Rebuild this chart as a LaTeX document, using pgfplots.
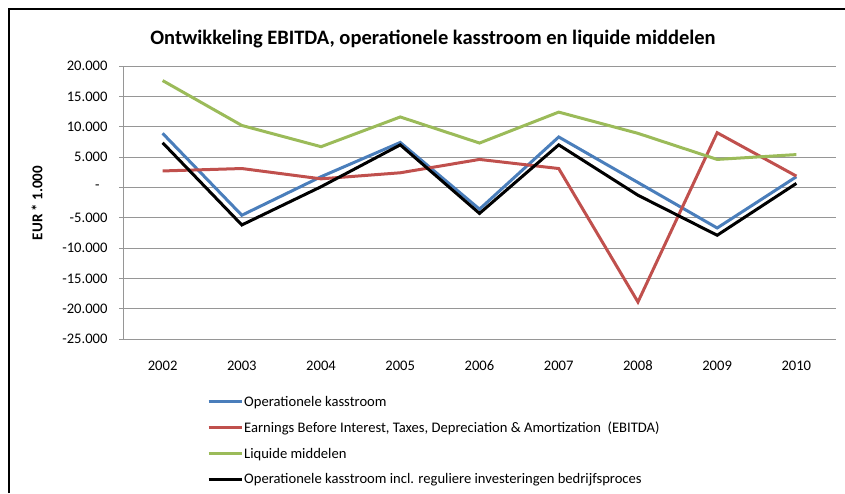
\documentclass[border=0pt]{standalone}
\usepackage{fontspec}
\setmainfont{Carlito}
\usepackage{pgfplots}
\pgfplotsset{compat=1.18}

\definecolor{kblue}{RGB}{74,126,187}
\definecolor{kred}{RGB}{192,80,77}
\definecolor{kgreen}{RGB}{155,187,89}
\definecolor{kgrid}{RGB}{150,150,150}

\begin{document}
\begin{tikzpicture}
  \path[use as bounding box] (0pt,0pt) rectangle (845pt,493pt);
  % outer frame (only left and top edges visible)
  \draw[black, line width=1.5pt] (9pt,0pt) -- (9pt,484pt) -- (845pt,484pt);
  \node[font=\fontsize{20.5}{24}\selectfont\bfseries] at (433pt,454pt)
    {Ontwikkeling EBITDA, operationele kasstroom en liquide middelen};
  \node[font=\fontsize{15}{17}\selectfont\bfseries, rotate=90] at (37pt,290pt)
    {EUR * 1.000};

  \begin{axis}[
    at={(123pt,154pt)}, anchor=south west,
    width=713pt, height=273pt, scale only axis,
    xmin=2001.5, xmax=2010.5,
    ymin=-25000, ymax=20000,
    xtick={2002,...,2010},
    xticklabels={2002,2003,2004,2005,2006,2007,2008,2009,2010},
    ytick={-25000,-20000,...,20000},
    yticklabels={-25.000,-20.000,-15.000,-10.000,-5.000,-\hspace*{8pt},5.000,10.000,15.000,20.000},
    scaled y ticks=false,
    yticklabel style={font=\fontsize{14.6}{16}\selectfont, xshift=-8pt},
    xticklabel style={font=\fontsize{14.6}{16}\selectfont, yshift=-14pt},
    axis x line*=bottom,
    x axis line style={draw=none},
    xtick style={draw=none},
    axis y line*=left,
    y axis line style={kgrid, line width=1pt, -},
    ytick style={kgrid, line width=1pt},
    tick align=outside,
    major tick length=4pt,
    ymajorgrids, grid style={kgrid, line width=1pt},
    clip=false,
    legend cell align=left,
    legend image code/.code={\draw[#1] (0pt,0pt) -- (33pt,0pt);},
    legend style={at={(axis description cs:0.1178,-0.205)}, anchor=north west,
      draw=none, fill=none, inner sep=0pt, row sep=12pt,
      font=\fontsize{14.6}{16}\selectfont,
      nodes={inner sep=1pt}},
  ]
  \addplot[kblue, line width=3pt] coordinates {
    (2002,8900)(2003,-4600)(2004,1750)(2005,7400)(2006,-3600)
    (2007,8300)(2008,800)(2009,-6700)(2010,1750)};
  \addlegendentry{Operationele kasstroom}
  \addplot[kred, line width=3pt] coordinates {
    (2002,2700)(2003,3100)(2004,1400)(2005,2400)(2006,4600)
    (2007,3100)(2008,-18900)(2009,9000)(2010,1850)};
  \addlegendentry{Earnings Before Interest, Taxes, Depreciation \& Amortization\ \ (EBITDA)}
  \addplot[kgreen, line width=3pt] coordinates {
    (2002,17600)(2003,10200)(2004,6700)(2005,11600)(2006,7300)
    (2007,12400)(2008,8900)(2009,4600)(2010,5400)};
  \addlegendentry{Liquide middelen}
  \addplot[black, line width=3pt] coordinates {
    (2002,7350)(2003,-6200)(2004,100)(2005,7000)(2006,-4300)
    (2007,7000)(2008,-1300)(2009,-7900)(2010,650)};
  \addlegendentry{Operationele kasstroom incl. reguliere investeringen bedrijfsproces}
  \end{axis}
\end{tikzpicture}
\end{document}
